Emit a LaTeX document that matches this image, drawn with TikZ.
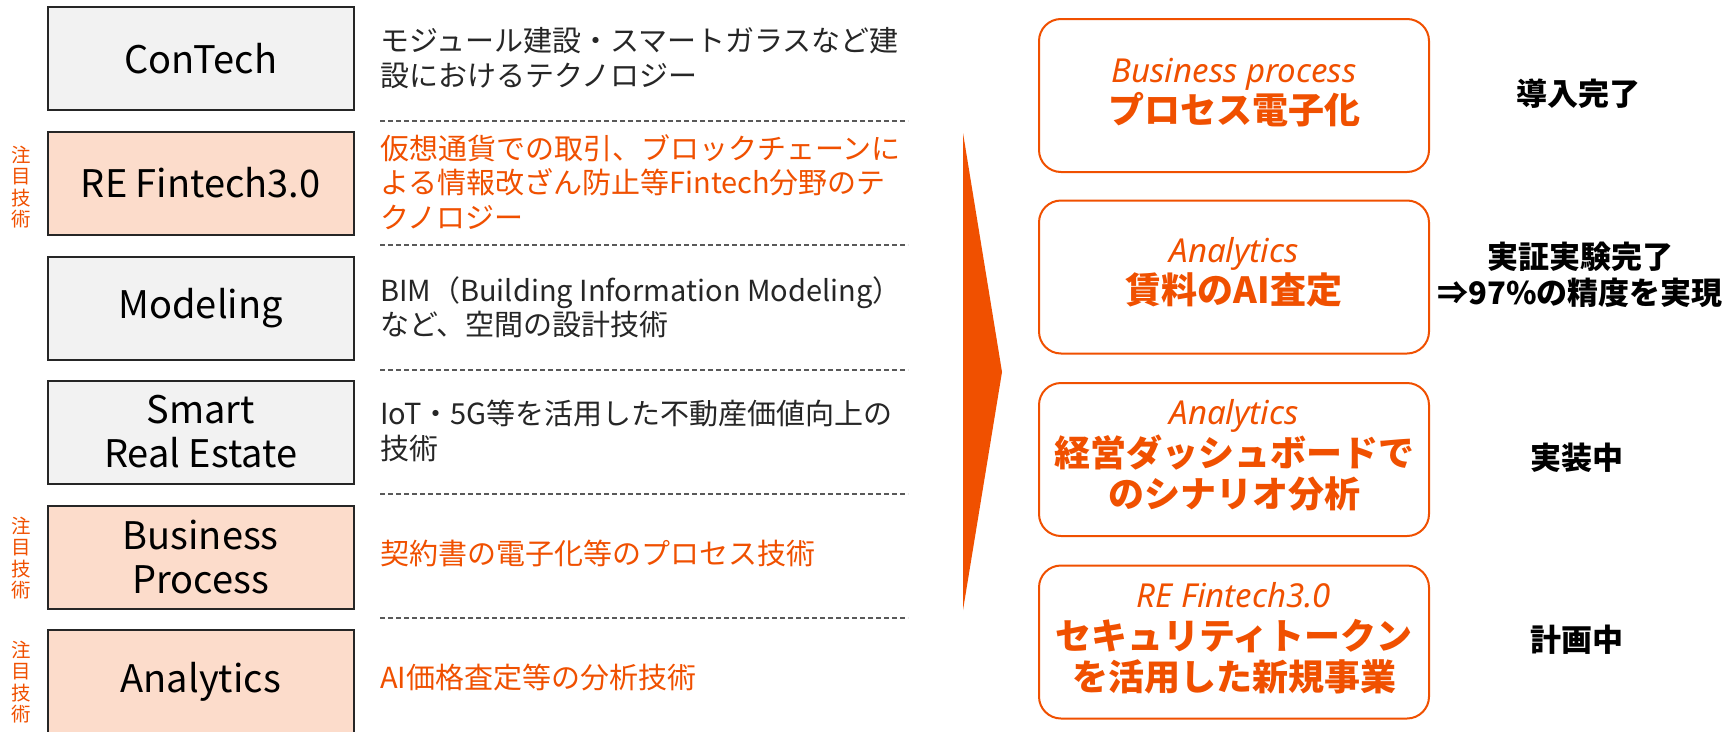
\documentclass[tikz,border=0pt]{standalone}
\usepackage{fontspec}
\setmainfont{Noto Sans CJK JP}
\newfontfamily\itfont{Noto Sans}
\definecolor{ora}{HTML}{F05000}
\definecolor{peach}{HTML}{FCDCCB}
\definecolor{lgray}{HTML}{F2F2F2}
\definecolor{dgray}{HTML}{262626}
\definecolor{dashc}{HTML}{595959}
\newcommand\itline[1]{{\itfont\itshape\mdseries\fontsize{33}{41.5}\selectfont #1}}
\begin{document}
\begin{tikzpicture}[x=1pt,y=-1pt,
 techbox/.style={draw=dgray, line width=2pt, minimum width=306pt, minimum height=103pt, inner sep=0pt, align=center, font=\fontsize{38}{44}\selectfont, text=black},
 grayb/.style={techbox, fill=lgray},
 peachb/.style={techbox, fill=peach},
 desc/.style={anchor=west, align=left, inner sep=0pt, font=\fontsize{29}{34.5}\selectfont, text=dgray},
 odesc/.style={desc, text=ora},
 focus/.style={align=center, inner sep=0pt, text=ora, font=\fontsize{19.5}{21.5}\selectfont},
 sep/.style={draw=dashc, line width=1.6pt, dash pattern=on 5pt off 3pt},
 resbox/.style={draw=ora, line width=2pt, rounded corners=22pt, minimum width=390pt, minimum height=153pt, inner sep=0pt},
 restext/.style={align=center, inner sep=0pt, text=ora, font=\fontsize{36}{41.5}\selectfont\bfseries},
 status/.style={align=center, inner sep=0pt, text=black, font=\fontsize{31}{36}\selectfont\bfseries}
]
\useasboundingbox (0,0) rectangle (1736,731);
\fill[white] (0,0) rectangle (1736,731);

% left technology boxes
\node[grayb]  (b1) at (200.7,58.5) {ConTech};
\node[peachb] (b2) at (200.7,183)  {RE Fintech3.0};
\node[grayb]  (b3) at (200.7,308)  {Modeling};
\node[grayb]  (b4) at (200.7,432)  {Smart\\Real Estate};
\node[peachb] (b5) at (200.7,557)  {Business\\Process};
\node[peachb] (b6) at (200.7,681.5) {Analytics};

% focus labels
\node[focus] (f2) at (21,187) {注\\目\\技\\術};
\node[focus] (f5) at (21,558) {注\\目\\技\\術};
\node[focus] (f6) at (21,682) {注\\目\\技\\術};

% descriptions
\node[desc]  (d1) at (380,58)  {モジュール建設・スマートガラスなど建\\設におけるテクノロジー};
\node[odesc] (d2) at (380,182) {仮想通貨での取引、ブロックチェーンに\\よる情報改ざん防止等Fintech分野のテ\\クノロジー};
\node[desc]  (d3) at (380,307.5) {BIM（Building Information Modeling）\\など、空間の設計技術};
\node[desc]  (d4) at (380,431) {IoT・5G等を活用した不動産価値向上の\\技術};
\node[odesc] (d5) at (380,553.6) {契約書の電子化等のプロセス技術};
\node[odesc] (d6) at (380,677.6) {AI価格査定等の分析技術};

% separators
\foreach \yy in {121,245,370,494,618}
  \draw[sep] (380,\yy) -- (908,\yy);

% big arrow
\fill[ora] (963,133) -- (1002,372) -- (963,610) -- cycle;

% result boxes
\node[resbox] (r1) at (1234,95.5) {};
\node[resbox] (r2) at (1234,277) {};
\node[resbox] (r3) at (1234,459.5) {};
\node[resbox] (r4) at (1234,642) {};

\node[restext] (r1t) at (1234,92.5) {\itline{Business process}\\プロセス電子化};
\node[restext] (r2t) at (1234,272.5) {\itline{Analytics}\\賃料のAI査定};
\node[restext] (r3t) at (1234,455.5) {\itline{Analytics}\\経営ダッシュボードで\\のシナリオ分析};
\node[restext] (r4t) at (1234,638.5) {\itline{RE Fintech3.0}\\セキュリティトークン\\を活用した新規事業};

% status labels
\node[status] (s1) at (1578,94) {導入完了};
\node[status] (s2) at (1580,275) {実証実験完了\\⇒97\%の精度を実現};
\node[status] (s3) at (1577,458) {実装中};
\node[status] (s4) at (1577,640) {計画中};
\end{tikzpicture}
\end{document}
